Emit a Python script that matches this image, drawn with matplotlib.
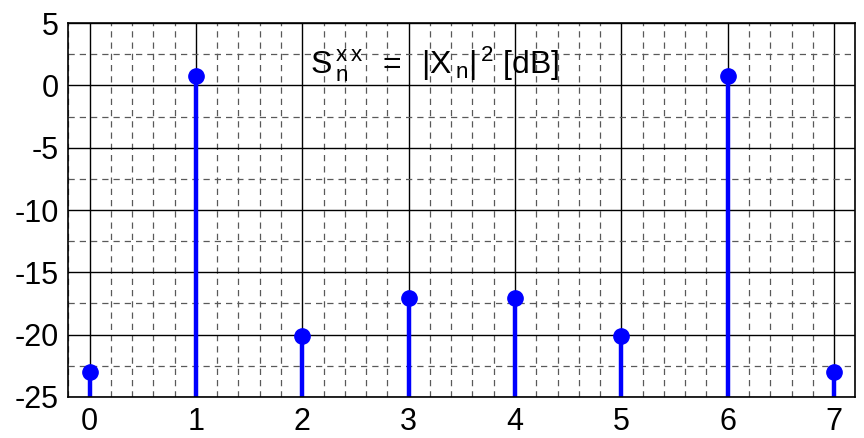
import numpy as np
import matplotlib
matplotlib.use("Agg")
import matplotlib.pyplot as plt
from matplotlib.ticker import MultipleLocator

plt.rcParams['font.family'] = ['Liberation Sans', 'DejaVu Sans']
plt.rcParams['mathtext.default'] = 'regular'
plt.rcParams['axes.unicode_minus'] = False

# Power spectrum bins and values in dB
n = [0, 1, 2, 3, 4, 5, 6, 7]
sxx_db = [-23.0, 0.8, -20.1, -17.1, -17.1, -20.1, 0.8, -23.0]

fig = plt.figure(figsize=(8.64, 4.38), dpi=100)
ax = fig.add_axes([0.079, 0.094, 0.911, 0.853])

ax.set_xlim(-0.2, 7.2)
ax.set_ylim(-25, 5)

ax.xaxis.set_major_locator(MultipleLocator(1))
ax.xaxis.set_minor_locator(MultipleLocator(0.2))
ax.yaxis.set_major_locator(MultipleLocator(5))
ax.yaxis.set_minor_locator(MultipleLocator(2.5))

ax.grid(True, which='minor', color='0.35', linestyle=(0, (5, 4)), linewidth=0.9)
ax.grid(True, which='major', color='black', linestyle='-', linewidth=1.0)
ax.set_axisbelow(True)

markerline, stemlines, baseline = ax.stem(n, sxx_db, bottom=-25, basefmt=' ')
plt.setp(stemlines, color='blue', linewidth=3.2)
plt.setp(markerline, color='blue', markersize=11)

ax.text(3.25, 1.0, r'S$_{\,n}^{\,x\,x}$ $\,=\,$ |X$_{\,n}$|$^{\,2}$ [dB]',
        fontsize=23, ha='center', va='baseline')

ax.tick_params(which='both', direction='in', length=0, labelsize=22, pad=7)
for s in ax.spines.values():
    s.set_linewidth(1.2)

fig.savefig('out.png', dpi=100)
